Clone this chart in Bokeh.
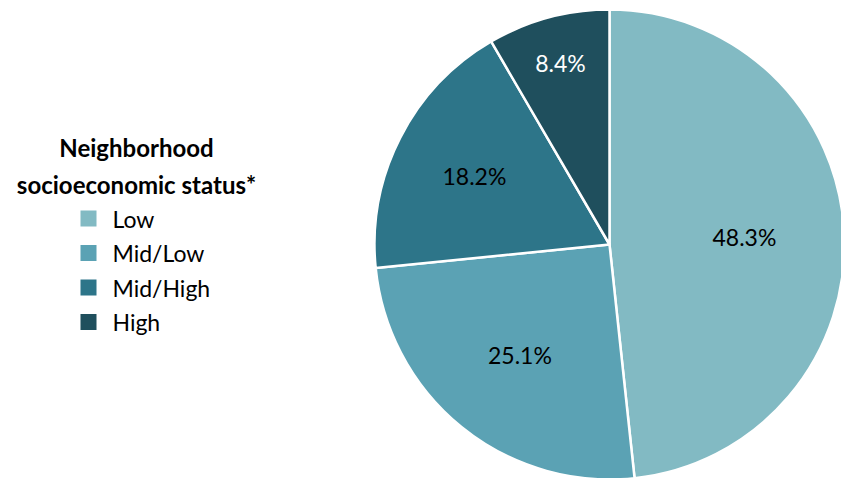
import math
from bokeh.plotting import figure
from bokeh.models import ColumnDataSource, Range1d
from bokeh.core.properties import value
from bokeh.embed import file_html
from bokeh.resources import INLINE

# ---- data ----
categories = ["Low", "Mid/Low", "Mid/High", "High"]
shares = [48.3, 25.1, 18.2, 8.4]
labels = ["48.3%", "25.1%", "18.2%", "8.4%"]
legend_title = ["Neighborhood", "socioeconomic status*"]

# ---- style ----
colors = ["#82BAC3", "#5BA2B4", "#2D7589", "#1F4F5D"]
label_colors = ["#000000", "#000000", "#000000", "#FFFFFF"]
label_rfrac = [0.575, 0.605, 0.645, 0.80]
FONT = "Lato"

W, H = 841, 478
cx, cy, R = 609, H - 244, 235

p = figure(width=W, height=H, output_backend="svg", toolbar_location=None,
           x_range=Range1d(0, W), y_range=Range1d(0, H), min_border=0)
p.axis.visible = False
p.grid.visible = False
p.outline_line_color = None
p.background_fill_color = "white"
p.border_fill_color = "white"

total = sum(shares)
starts, ends, lx, ly = [], [], [], []
cum = 0.0
for s, rf in zip(shares, label_rfrac):
    a0 = math.pi / 2 - 2 * math.pi * cum / total
    a1 = math.pi / 2 - 2 * math.pi * (cum + s) / total
    mid = (a0 + a1) / 2
    starts.append(a0)
    ends.append(a1)
    lx.append(cx + rf * R * math.cos(mid))
    ly.append(cy + rf * R * math.sin(mid))
    cum += s

src = ColumnDataSource(dict(cat=categories, start=starts, end=ends, color=colors,
                            lx=lx, ly=ly, label=labels, lcolor=label_colors))

p.wedge(x=cx, y=cy, radius=R, start_angle="start", end_angle="end",
        direction="clock", fill_color="color", line_color="white",
        line_width=2.5, source=src)

p.text(x="lx", y="ly", text="label", text_color="lcolor", source=src,
       text_font=value(FONT), text_font_size="23px",
       text_align="center", text_baseline="middle")

# legend
leg_x, leg_y0, leg_dy = 88, H - 218, 34.5
legend_src = ColumnDataSource(dict(
    x=[leg_x] * len(categories),
    tx=[leg_x + 24] * len(categories),
    y=[leg_y0 - i * leg_dy for i in range(len(categories))],
    cat=categories, color=colors))
p.scatter(x="x", y="y", marker="square", size=16, fill_color="color",
          line_color=None, source=legend_src)
p.text(x="tx", y="y", text="cat", source=legend_src, text_color="#000000",
       text_font=value(FONT), text_font_size="23px",
       text_align="left", text_baseline="middle")

title_src = ColumnDataSource(dict(x=[136, 136], y=[H - 147, H - 184], t=legend_title))
p.text(x="x", y="y", text="t", source=title_src, text_color="#000000",
       text_font=value(FONT), text_font_size="24px", text_font_style="bold",
       text_align="center", text_baseline="middle")

open("out.html", "w").write(file_html(p, INLINE))
